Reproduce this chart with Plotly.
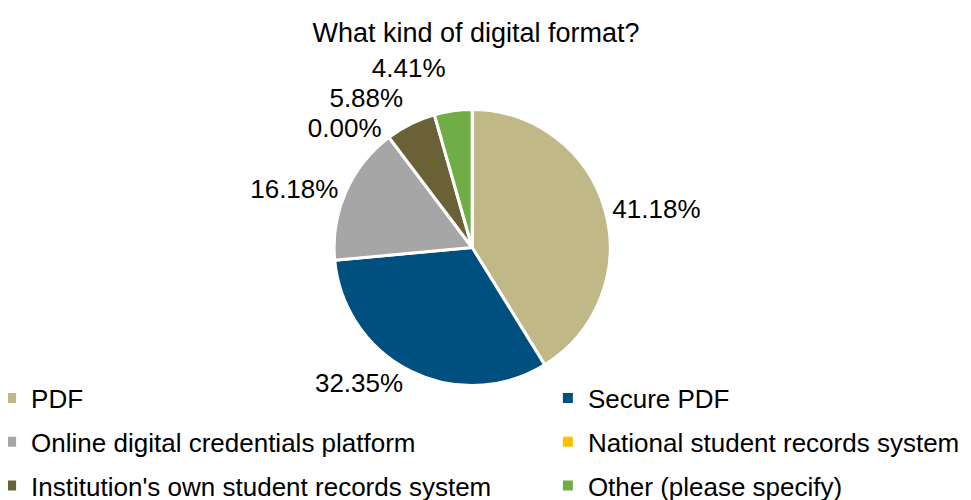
import plotly.graph_objects as go

# === Data ===
labels = ["PDF", "Secure PDF", "Online digital credentials platform",
          "National student records system", "Institution's own student records system",
          "Other (please specify)"]
shares = [41.18, 32.35, 16.18, 0.00, 5.88, 4.41]
colors = ["#C0B987", "#00507F", "#A6A6A6", "#FFC000", "#6B6136", "#70AD47"]
legend_ids = ["legend", "legend2", "legend", "legend2", "legend", "legend2"]

fig = go.Figure()

# Pie
fig.add_trace(go.Pie(
    labels=labels, values=shares, sort=False, direction="clockwise", rotation=0,
    marker=dict(colors=colors, line=dict(color="white", width=3)),
    texttemplate="%{value:.2f}%", textposition="outside",
    textfont=dict(size=26, color="black"),
    showlegend=False, hoverinfo="label+value",
    domain=dict(x=[0.278, 0.678], y=[0.245, 0.797]),
))

# Legend entries (two columns)
for lab, col, lg in zip(labels, colors, legend_ids):
    fig.add_trace(go.Scatter(
        x=[None], y=[None], mode="markers", name=lab, legend=lg, legendgroup=lab,
        marker=dict(symbol="square", size=10, color=col),
    ))

legend_style = dict(orientation="v", yanchor="top", y=0.267, xanchor="left",
                    font=dict(size=26, color="black"), tracegroupgap=7,
                    bgcolor="rgba(0,0,0,0)")

fig.update_layout(
    title=dict(text="What kind of digital format?", x=0.482, xanchor="center", y=0.97,
               font=dict(size=27, color="black")),
    font=dict(family="Liberation Sans, Arial, sans-serif", color="black"),
    width=971, height=500,
    margin=dict(l=0, r=0, t=0, b=0, autoexpand=False),
    paper_bgcolor="white", plot_bgcolor="white",
    xaxis=dict(visible=False), yaxis=dict(visible=False),
    legend=dict(x=-0.0174, **legend_style),
    legend2=dict(x=0.556, **legend_style),
)

# no leader lines on the outside labels
hide_lines = ("var s=document.createElement('style');"
              "s.innerHTML='.textline{display:none}';"
              "document.head.appendChild(s);")
fig.write_html("out.html", post_script=hide_lines)
